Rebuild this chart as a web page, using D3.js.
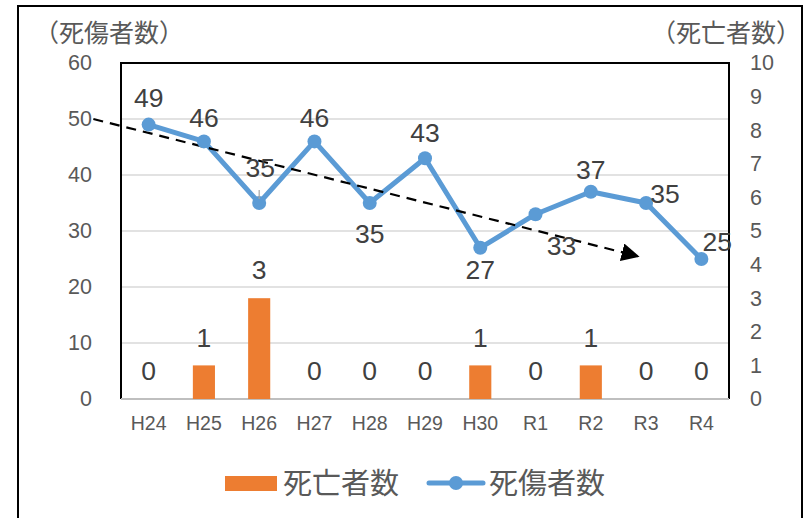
<!DOCTYPE html>
<html><head><meta charset="utf-8">
<script src="https://cdn.jsdelivr.net/npm/d3@7"></script>
<style>
html,body{margin:0;padding:0;background:#fff;}
svg{display:block;}
</style></head>
<body>
<svg id="c" width="807" height="518"></svg>
<script>
const categories = ["H24","H25","H26","H27","H28","H29","H30","R1","R2","R3","R4"];
const casualties = [49,46,35,46,35,43,27,33,37,35,25];   // 死傷者数 (left axis)
const deaths     = [0,1,3,0,0,0,1,0,1,0,0];              // 死亡者数 (right axis)
const leftTicks  = [0,10,20,30,40,50,60];
const rightTicks = [0,1,2,3,4,5,6,7,8,9,10];
// trend arrow annotation in data space (category index, casualties value)
const trendFrom = [-1.0, 50];
const trendTo   = [8.85, 25.5];

// label placement offsets (layout, px)
const lineLabelOffset = [[0,-27],[0,-24],[1,-35],[0,-24],[0,31],[0,-25],[0,22],[26,32],[0,-22],[19,-9],[16,-17]];

const svg = d3.select("#c");
const W = 807, H = 518;
const m = {l:121, r:807-729, t:63, b:518-399};
const iw = W - m.l - m.r, ih = H - m.t - m.b;

const FONT = "'Liberation Sans', Arial, sans-serif";
const CJK = "'Noto Sans CJK JP', 'Noto Sans CJK SC', sans-serif";

// outer frame
svg.append("rect").attr("x",18).attr("y",6).attr("width",784).attr("height",520)
  .attr("fill","none").attr("stroke","#000").attr("stroke-width",2);

const x = d3.scaleBand().domain(categories).range([m.l, m.l+iw]).paddingInner(0).paddingOuter(0);
const xi = d3.scaleLinear().domain([0,1]).range([x(categories[0])+x.bandwidth()/2, x(categories[1])+x.bandwidth()/2]);
const yL = d3.scaleLinear().domain([0,60]).range([m.t+ih, m.t]);
const yR = d3.scaleLinear().domain([0,10]).range([m.t+ih, m.t]);

// gridlines
svg.append("g").selectAll("line").data(leftTicks.filter(d=>d>0 && d<60)).join("line")
  .attr("x1",m.l).attr("x2",m.l+iw).attr("y1",d=>yL(d)).attr("y2",d=>yL(d))
  .attr("stroke","#d9d9d9").attr("stroke-width",1.5);

// plot box (top, left, right black)
svg.append("path")
  .attr("d",`M${m.l},${m.t+ih}V${m.t}H${m.l+iw}V${m.t+ih}`)
  .attr("fill","none").attr("stroke","#000").attr("stroke-width",2);
// bottom axis
svg.append("line").attr("x1",m.l).attr("x2",m.l+iw).attr("y1",m.t+ih).attr("y2",m.t+ih)
  .attr("stroke","#bfbfbf").attr("stroke-width",2);

// left axis
const gl = svg.append("g").attr("transform",`translate(${m.l},0)`)
  .call(d3.axisLeft(yL).tickValues(leftTicks).tickSize(0).tickPadding(29));
gl.select(".domain").remove();
gl.selectAll("text").attr("font-family",FONT).attr("font-size",21.5).attr("fill","#595959");

// right axis
const gr = svg.append("g").attr("transform",`translate(${m.l+iw},0)`)
  .call(d3.axisRight(yR).tickValues(rightTicks).tickSize(0).tickPadding(21));
gr.select(".domain").remove();
gr.selectAll("text").attr("font-family",FONT).attr("font-size",21.5).attr("fill","#595959");

// bottom axis labels
const gb = svg.append("g").attr("transform",`translate(0,${m.t+ih})`)
  .call(d3.axisBottom(x).tickSize(0).tickPadding(17));
gb.select(".domain").remove();
gb.selectAll("text").attr("font-family",FONT).attr("font-size",19.5).attr("fill","#595959");

// axis titles
svg.append("text").attr("x",109).attr("y",42).attr("text-anchor","middle")
  .attr("font-family",CJK).attr("font-size",25).attr("fill","#595959").text("（死傷者数）");
svg.append("text").attr("x",726).attr("y",42).attr("text-anchor","middle")
  .attr("font-family",CJK).attr("font-size",25).attr("fill","#595959").text("（死亡者数）");

// bars
const bw = x.bandwidth()*0.4;
svg.append("g").selectAll("rect").data(deaths).join("rect")
  .attr("x",(d,i)=>x(categories[i])+(x.bandwidth()-bw)/2)
  .attr("width",bw)
  .attr("y",d=>yR(d)).attr("height",d=>yR(0)-yR(d))
  .attr("fill","#ED7D31");

// bar labels
svg.append("g").selectAll("text").data(deaths).join("text")
  .attr("x",(d,i)=>x(categories[i])+x.bandwidth()/2)
  .attr("y",d=>yR(d)-28)
  .attr("dy","0.35em")
  .attr("text-anchor","middle").attr("font-family",FONT).attr("font-size",26.5).attr("fill","#404040")
  .text(d=>d);

// line
const line = d3.line().x((d,i)=>x(categories[i])+x.bandwidth()/2).y(d=>yL(d));
svg.append("path").datum(casualties).attr("d",line)
  .attr("fill","none").attr("stroke","#5B9BD5").attr("stroke-width",5).attr("stroke-linejoin","round");

// trend arrow
svg.append("defs").append("marker").attr("id","arr")
  .attr("viewBox","0 0 10 10").attr("refX",9).attr("refY",5)
  .attr("markerWidth",18).attr("markerHeight",18).attr("markerUnits","userSpaceOnUse")
  .attr("orient","auto")
  .append("path").attr("d","M0,0L10,5L0,10z").attr("fill","#000");
svg.append("line")
  .attr("x1",xi(trendFrom[0])).attr("y1",yL(trendFrom[1]))
  .attr("x2",xi(trendTo[0])).attr("y2",yL(trendTo[1]))
  .attr("stroke","#000").attr("stroke-width",2.2).attr("stroke-dasharray","10,7")
  .attr("marker-end","url(#arr)");

// markers
svg.append("g").selectAll("circle").data(casualties).join("circle")
  .attr("cx",(d,i)=>x(categories[i])+x.bandwidth()/2).attr("cy",d=>yL(d))
  .attr("r",7).attr("fill","#5B9BD5");

// leader line for H26 label
svg.append("line")
  .attr("x1",x(categories[2])+x.bandwidth()/2).attr("x2",x(categories[2])+x.bandwidth()/2)
  .attr("y1",yL(casualties[2])-13).attr("y2",yL(casualties[2])-4)
  .attr("stroke","#a6a6a6").attr("stroke-width",1.2);

// line labels
svg.append("g").selectAll("text").data(casualties).join("text")
  .attr("x",(d,i)=>x(categories[i])+x.bandwidth()/2+lineLabelOffset[i][0])
  .attr("y",(d,i)=>yL(d)+lineLabelOffset[i][1])
  .attr("dy","0.35em")
  .attr("text-anchor","middle").attr("font-family",FONT).attr("font-size",26.5).attr("fill","#404040")
  .text(d=>d);

// legend
const lg = svg.append("g");
lg.append("rect").attr("x",225).attr("y",476).attr("width",52).attr("height",15).attr("fill","#ED7D31");
lg.append("text").attr("x",283).attr("y",484).attr("dy","0.35em").attr("font-family",CJK)
  .attr("font-size",29).attr("fill","#595959").text("死亡者数");
lg.append("line").attr("x1",429).attr("x2",483).attr("y1",483).attr("y2",483)
  .attr("stroke","#5B9BD5").attr("stroke-width",5).attr("stroke-linecap","round");
lg.append("circle").attr("cx",456).attr("cy",483).attr("r",7).attr("fill","#5B9BD5");
lg.append("text").attr("x",489).attr("y",484).attr("dy","0.35em").attr("font-family",CJK)
  .attr("font-size",29).attr("fill","#595959").text("死傷者数");
</script>
</body></html>
